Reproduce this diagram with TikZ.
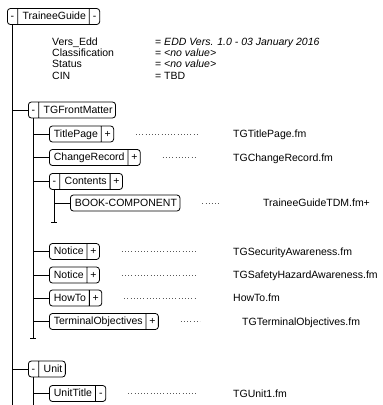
\documentclass[tikz,border=0pt]{standalone}
\usepackage{fontspec}
\setmainfont{Liberation Sans}
\usetikzlibrary{shapes.multipart}

\newcommand\cellstrut{\rule[-2.6pt]{0pt}{12pt}}
\newcommand\cellminus{\cellstrut\makebox[4pt]{-}}
\newcommand\cellplus{\cellstrut\makebox[6pt]{+}}
\newcommand\cellname[1]{\cellstrut\hspace{1.5pt}#1\hspace{1.5pt}}

\begin{document}
\begin{tikzpicture}[
    x=1pt,
    y=-1pt,
    elem/.style={
        rectangle split,
        rectangle split horizontal,
        rectangle split parts=#1,
        draw,
        line width=0.8pt,
        rounded corners=3pt,
        inner xsep=3pt,
        inner ysep=2pt,
        anchor=west,
        font=\fontsize{10.5}{12}\selectfont
    },
    elem/.default=2,
    txt/.style={
        inner sep=0pt,
        anchor=west,
        text height=7.5pt,
        text depth=0pt,
        font=\fontsize{10.5}{12}\selectfont
    },
    tree/.style={
        line width=0.8pt
    },
    leader/.style={
        draw=black!65,
        line width=0.8pt,
        dash pattern=on 0.8pt off 2.4pt,
        shorten <=22pt,
        shorten >=36pt
    }
]
    \useasboundingbox (0,0) rectangle (383,405);

    \node [elem=3] (root) at (7,16.5) {\cellminus\nodepart{two}\cellname{TraineeGuide}\nodepart{three}\cellminus};

    \foreach \y/\k/\v [count=\i] in {41.5/Vers\_Edd/{\textit{EDD Vers. 1.0 - 03 January 2016}},
            52.8/Classification/{\textit{<no value>}}, 64/Status/{\textit{<no value>}}, 75.3/CIN/TBD} {
        \node [txt] (attr\i) at (52,\y) {\k};
        \node [txt] (val\i) at (155,\y) {= \v};
    }

    \node [elem] (frontmatter) at (28,110) {\cellminus\nodepart{two}\cellname{TGFrontMatter}};
    \node [elem] (titlepage) at (49,134) {\cellname{TitlePage}\nodepart{two}\cellplus};
    \node [elem] (changerec) at (49,157.5) {\cellname{ChangeRecord}\nodepart{two}\cellplus};
    \node [elem=3] (contents) at (49,181.5) {\cellminus\nodepart{two}\cellname{Contents}\nodepart{three}\cellplus};
    \node [elem=1] (bookcomp) at (70,203) {\cellname{BOOK-COMPONENT}};
    \node [elem] (notice1) at (49,251.5) {\cellname{Notice}\nodepart{two}\cellplus};
    \node [elem] (notice2) at (49,275) {\cellname{Notice}\nodepart{two}\cellplus};
    \node [elem] (howto) at (49,298) {\cellname{HowTo}\nodepart{two}\cellplus};
    \node [elem] (termobj) at (49,321.5) {\cellname{TerminalObjectives}\nodepart{two}\cellplus};
    \node [elem] (unit) at (28,369) {\cellminus\nodepart{two}\cellname{Unit}};
    \node [elem] (unittitle) at (49,393.5) {\cellname{UnitTitle}\nodepart{two}\cellminus};

    \node [txt] (ftitlepage) at (233,134) {TGTitlePage.fm};
    \node [txt] (fchangerec) at (233,157.5) {TGChangeRecord.fm};
    \node [txt] (fbookcomp) at (263,203) {TraineeGuideTDM.fm+};
    \node [txt] (fnotice1) at (233,251.5) {TGSecurityAwareness.fm};
    \node [txt] (fnotice2) at (233,275) {TGSafetyHazardAwareness.fm};
    \node [txt] (fhowto) at (233,298) {HowTo.fm};
    \node [txt] (ftermobj) at (242,321.5) {TGTerminalObjectives.fm};
    \node [txt] (funittitle) at (233,393.5) {TGUnit1.fm};

    \coordinate (rootend) at (12,405);
    \coordinate (fmend) at (33,338);
    \coordinate (contentsend) at (54,222);
    \coordinate (unitend) at (33,405);

    \draw [tree] ([xshift=5pt]root.south west) |- (frontmatter.west);
    \draw [tree] ([xshift=5pt]root.south west) |- (unit.west);
    \draw [tree] ([xshift=5pt]root.south west) -- (rootend);
    \foreach \c in {titlepage,changerec,contents,notice1,notice2,howto,termobj}
        \draw [tree] ([xshift=5pt]frontmatter.south west) |- (\c.west);
    \draw [tree] ([xshift=5pt]frontmatter.south west) -- (fmend);
    \draw [tree] ([xshift=-3pt]fmend) -- ([xshift=3pt]fmend);
    \draw [tree] ([xshift=5pt]contents.south west) |- (bookcomp.west);
    \draw [tree] ([xshift=5pt]contents.south west) -- (contentsend);
    \draw [tree] ([xshift=-3pt]contentsend) -- ([xshift=3pt]contentsend);
    \draw [tree] ([xshift=5pt]unit.south west) |- (unittitle.west);
    \draw [tree] ([xshift=5pt]unit.south west) -- (unitend);

    \foreach \b in {titlepage,changerec,notice1,notice2,howto,unittitle}
        \draw [leader] (\b.east) -- (f\b.west);
    \draw [leader, shorten >=42pt] (termobj.east) -- (ftermobj.west);
    \draw [leader, shorten >=43pt] (bookcomp.east) -- (fbookcomp.west);
\end{tikzpicture}
\end{document}
